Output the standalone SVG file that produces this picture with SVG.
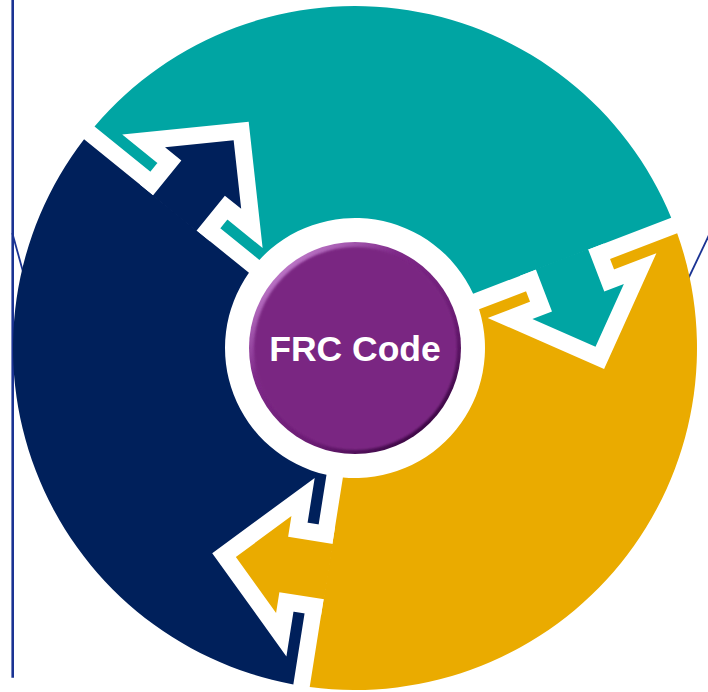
<svg xmlns="http://www.w3.org/2000/svg" xmlns:xlink="http://www.w3.org/1999/xlink" width="708" height="692" viewBox="0 0 708 692">
<defs>
<style>
.rule{stroke:#1a3393;fill:none}
.outline{fill:none;stroke:#ffffff;stroke-width:34;stroke-linejoin:miter;stroke-miterlimit:4;stroke-linecap:butt}
.label{font-family:"Liberation Sans",Arial,sans-serif;font-weight:700;font-size:35.5px;fill:#ffffff;text-anchor:middle}
.teal{fill:#00a5a3}
.gold{fill:#eaab00}
.navy{fill:#00205b}
</style>
<path id="sector" d="M-163.76,-300.24 A342,342 0 0 1 341.9,-8.3 L129.73,-8.3 A130,130 0 0 0 -57.68,-116.5 Z"/>
<path id="arrowFill" d="M197,-9 L197,36.5 L176,36.5 L225,85 L274,36.5 L253,36.5 L253,-9 Z"/>
<path id="arrowEdge" d="M197,-8.3 L197,36.5 L176,36.5 L225,85 L274,36.5 L253,36.5 L253,-8.3"/>
<linearGradient id="btnEdge" x1="0.15" y1="0.1" x2="0.85" y2="0.9">
<stop offset="0" stop-color="#c07ccb"/>
<stop offset="0.3" stop-color="#7f2a89"/>
<stop offset="0.7" stop-color="#6a1c73"/>
<stop offset="1" stop-color="#3a0742"/>
</linearGradient>
<filter id="soft" x="-10%" y="-10%" width="120%" height="120%">
<feGaussianBlur stdDeviation="1.3"/>
</filter>
</defs>
<rect width="708" height="692" fill="#ffffff"/>
<g id="rules">
<line class="rule" x1="12.7" y1="0" x2="12.7" y2="677.7" stroke-width="2.6"/>
<line class="rule" x1="12.3" y1="233" x2="30" y2="297" stroke-width="1.8"/>
<line class="rule" x1="680" y1="296" x2="710" y2="233" stroke-width="1.8"/>
</g>
<g id="seg-teal"><use xlink:href="#sector" class="teal" transform="translate(355 348) rotate(-21)"/></g>
<g id="seg-gold"><use xlink:href="#sector" class="gold" transform="translate(355 348) rotate(99)"/></g>
<g id="seg-navy"><use xlink:href="#sector" class="navy" transform="translate(355 348) rotate(219)"/></g>
<g id="connectors">
<g transform="translate(355 348) rotate(-21)">
<use xlink:href="#arrowEdge" class="outline"/>
<use xlink:href="#arrowFill" class="teal"/>
</g>
<g transform="translate(355 348) rotate(99)">
<use xlink:href="#arrowEdge" class="outline"/>
<use xlink:href="#arrowFill" class="gold"/>
</g>
<g transform="translate(355 348) rotate(219)">
<use xlink:href="#arrowEdge" class="outline"/>
<use xlink:href="#arrowFill" class="navy"/>
</g>
</g>
<g id="frc-code">
<circle cx="355" cy="348" r="106" fill="url(#btnEdge)"/>
<circle cx="355.5" cy="348.5" r="101.5" fill="#7a2682" filter="url(#soft)"/>
<text class="label" x="355" y="361">FRC Code</text>
</g>
</svg>
